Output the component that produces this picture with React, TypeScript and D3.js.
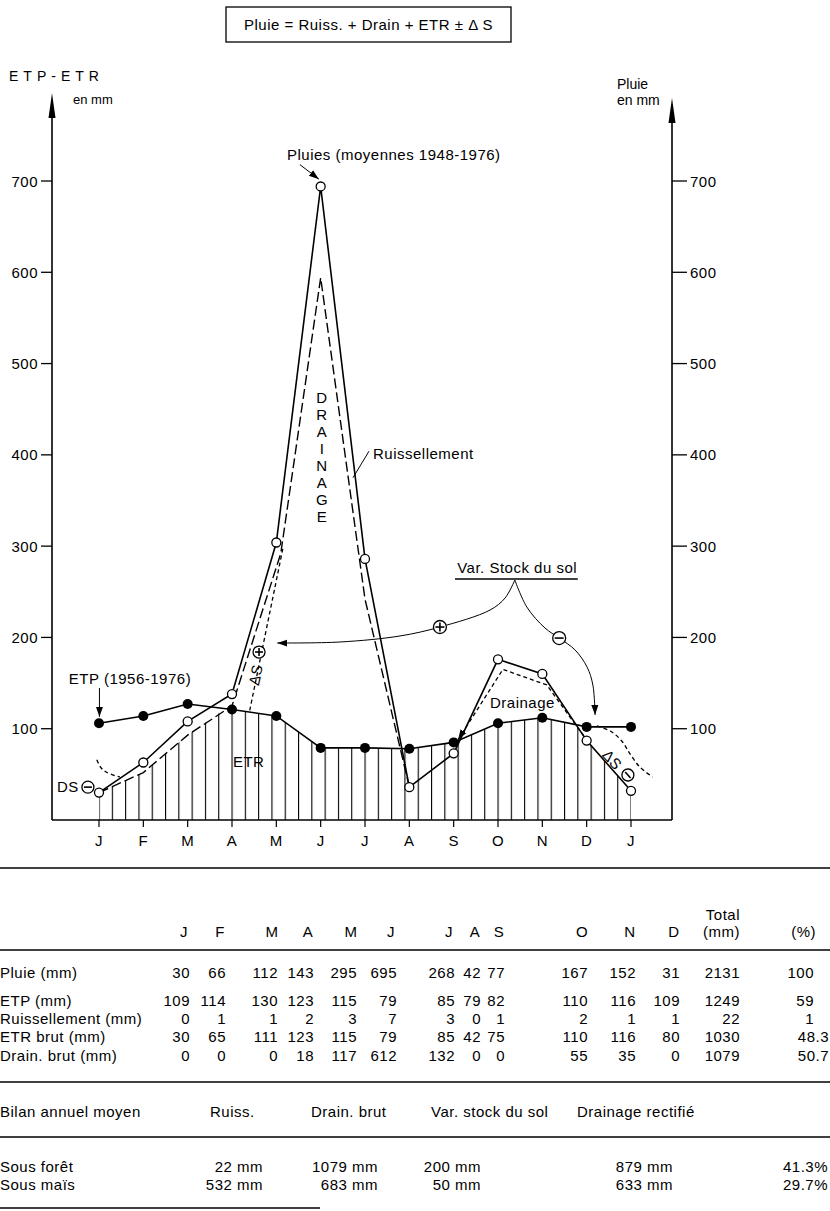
import React from "react";
import * as d3 from "d3";

// ---------- chart data ----------
const months = ["J", "F", "M", "A", "M", "J", "J", "A", "S", "O", "N", "D", "J"];
const pluiePlot = [30, 63, 108, 138, 304, 694, 286, 36, 73, 176, 160, 87, 32];
const etpPlot = [106, 114, 127, 121, 114, 79, 79, 78, 85, 106, 112, 102, 102];
const ruissLine: [number, number][] = [[0, 30], [1, 52], [2, 93], [3, 125], [4.1, 292], [5, 594], [6, 242], [7, 36]];
const deltaSPlusLine: [number, number][] = [[3.4, 120], [4.15, 298]];
const drainageLine: [number, number][] = [[8.1, 88], [9.11, 165], [10.1, 148], [10.62, 113], [11.0, 88]];
const deltaSRight: [number, number][] = [[11.23, 103], [11.55, 97], [11.8, 86], [11.97, 73], [12.2, 58], [12.49, 47]];
const deltaSLeft: [number, number][] = [[-0.05, 66], [0.05, 57], [0.18, 52], [0.47, 47]];
const etrTop: [number, number][] = [[0, 30], [1, 52], [2, 93], [2.85, 122], [3, 121], [4, 114], [5, 79], [6, 79], [7, 78], [8, 85], [9, 106], [10, 112], [10.76, 104], [11, 87], [12, 32]];
const leftTicks = [100, 200, 300, 400, 500, 600, 700];
const rightTicks = [100, 200, 300, 400, 500, 600, 700];
const varStockLeft: [number, number][] = [[9.38, 262.9], [9.16, 243.2], [8.82, 230.0], [7.69, 211.4], [6.79, 201.6], [5.44, 195.0], [4.02, 193.9]];
const varStockRight: [number, number][] = [[9.38, 262.9], [9.65, 233.3], [10.06, 210.3], [10.38, 199.3], [10.74, 186.2], [11.01, 167.5], [11.14, 147.9], [11.19, 115.0]];

// ---------- table data ----------
const tableMonths = ["J", "F", "M", "A", "M", "J", "J", "A", "S", "O", "N", "D"];
const rowLabels = ["Pluie (mm)", "ETP (mm)", "Ruissellement (mm)", "ETR brut (mm)", "Drain. brut (mm)"];
const pluieRow = [30, 66, 112, 143, 295, 695, 268, 42, 77, 167, 152, 31];
const etpRow = [109, 114, 130, 123, 115, 79, 85, 79, 82, 110, 116, 109];
const ruissRow = [0, 1, 1, 2, 3, 7, 3, 0, 1, 2, 1, 1];
const etrRow = [30, 65, 111, 123, 115, 79, 85, 42, 75, 110, 116, 80];
const drainRow = [0, 0, 0, 18, 117, 612, 132, 0, 0, 55, 35, 0];
const totals = ["2131", "1249", "22", "1030", "1079"];
const percents = ["100", "59", "1", "48.3", "50.7"];
const bilanHeaders = ["Bilan annuel moyen", "Ruiss.", "Drain. brut", "Var. stock du sol", "Drainage rectifié"];
const foretRow = ["Sous forêt", "22 mm", "1079 mm", "200 mm", "879 mm", "41.3%"];
const maisRow = ["Sous maïs", "532 mm", "683 mm", "50 mm", "633 mm", "29.7%"];

// ---------- layout ----------
const FONT = "'Liberation Sans', Arial, Helvetica, sans-serif";
const FS = 15;
const LS = 0.5;
const colRight = [190, 226, 278, 314, 357, 397, 455, 481, 505, 588, 636, 680];
const totalRight = 740;
const rowBase = [978, 1006, 1024, 1042, 1061];

const x = d3.scaleLinear().domain([0, 12]).range([99, 631]);
const y = d3.scaleLinear().domain([0, 700]).range([820, 181]);

const lineGen = d3.line<[number, number]>().x((d) => x(d[0])).y((d) => y(d[1]));
const curveGen = d3.line<[number, number]>().x((d) => x(d[0])).y((d) => y(d[1])).curve(d3.curveCatmullRom.alpha(0.5));
const areaGen = d3.area<[number, number]>().x((d) => x(d[0])).y0(y(0)).y1((d) => y(d[1]));

function Sign({ cx, cy, plus, r = 6.5 }: { cx: number; cy: number; plus: boolean; r?: number }) {
  return (
    <g>
      <circle cx={cx} cy={cy} r={r} fill="#fff" stroke="#000" strokeWidth={1.3} />
      <line x1={cx - r + 2} x2={cx + r - 2} y1={cy} y2={cy} stroke="#000" strokeWidth={1.6} />
      {plus && <line x1={cx} x2={cx} y1={cy - r + 2} y2={cy + r - 2} stroke="#000" strokeWidth={1.6} />}
    </g>
  );
}

function T(props: any) {
  return <text fontSize={FS} letterSpacing={LS} {...props} />;
}

export default function App() {
  const pluiePts: [number, number][] = pluiePlot.map((v, i) => [i, v]);
  const etpPts: [number, number][] = etpPlot.map((v, i) => [i, v]);
  const rows = [pluieRow, etpRow, ruissRow, etrRow, drainRow];

  return (
    <svg width={830} height={1211} style={{ position: "absolute", left: 0, top: 0, background: "#fff" }} fontFamily={FONT}>
      <defs>
        <pattern id="hatch" patternUnits="userSpaceOnUse" x={98.5} y={0} width={13.3} height={20}>
          <rect x={0} y={0} width={1.1} height={20} fill="#000" />
        </pattern>
        <marker id="arr" markerUnits="userSpaceOnUse" markerWidth={12} markerHeight={10} refX={10} refY={5} orient="auto-start-reverse">
          <path d="M0,1.5 L10,5 L0,8.5 Z" fill="#000" />
        </marker>
      </defs>
      <rect x={0} y={0} width={830} height={1211} fill="#fff" />

      {/* formula box */}
      <rect x={226} y={7} width={285} height={35} fill="none" stroke="#000" strokeWidth={1.3} />
      <T x={368.5} y={30} textAnchor="middle">Pluie = Ruiss. + Drain + ETR ± Δ S</T>

      {/* axis titles */}
      <text x={9} y={81} fontSize={14} letterSpacing={5}>ETP-ETR</text>
      <text x={73} y={104} fontSize={13}>en mm</text>
      <text x={617} y={89} fontSize={14}>Pluie</text>
      <text x={617} y={105} fontSize={14}>en mm</text>

      {/* hatch ETR */}
      <path d={areaGen(etrTop) || ""} fill="url(#hatch)" stroke="none" />

      {/* axes */}
      <line x1={52} x2={52} y1={y(0)} y2={110} stroke="#000" strokeWidth={1.6} />
      <path d="M52,93 L48.5,118 L55.5,118 Z" fill="#000" />
      <line x1={672} x2={672} y1={y(0)} y2={115} stroke="#000" strokeWidth={1.6} />
      <path d="M672,98 L668.5,123 L675.5,123 Z" fill="#000" />
      <line x1={52} x2={672} y1={y(0)} y2={y(0)} stroke="#000" strokeWidth={1.6} />
      {leftTicks.map((t) => (
        <g key={"l" + t}>
          <line x1={41} x2={52} y1={y(t)} y2={y(t)} stroke="#000" strokeWidth={1.3} />
          <T x={38} y={y(t) + 5.5} textAnchor="end">{t}</T>
        </g>
      ))}
      {rightTicks.map((t) => (
        <g key={"r" + t}>
          <line x1={672} x2={687} y1={y(t)} y2={y(t)} stroke="#000" strokeWidth={1.3} />
          <T x={690} y={y(t) + 5.5}>{t}</T>
        </g>
      ))}
      {months.map((m, i) => (
        <g key={"m" + i}>
          <line x1={x(i)} x2={x(i)} y1={y(0)} y2={y(0) + 7} stroke="#000" strokeWidth={1.2} />
          <T x={x(i)} y={y(0) + 26} textAnchor="middle">{m}</T>
        </g>
      ))}

      {/* dashed lines */}
      <path d={lineGen(ruissLine) || ""} fill="none" stroke="#000" strokeWidth={1.4} strokeDasharray="10,4" />
      <path d={lineGen(deltaSPlusLine) || ""} fill="none" stroke="#000" strokeWidth={1.3} strokeDasharray="4,3" />
      <path d={lineGen(drainageLine) || ""} fill="none" stroke="#000" strokeWidth={1.3} strokeDasharray="4,3" markerStart="url(#arr)" />
      <path d={curveGen(deltaSRight) || ""} fill="none" stroke="#000" strokeWidth={1.3} strokeDasharray="4,3" />
      <path d={curveGen(deltaSLeft) || ""} fill="none" stroke="#000" strokeWidth={1.3} strokeDasharray="4,3" />

      {/* ETP line */}
      <path d={lineGen(etpPts) || ""} fill="none" stroke="#000" strokeWidth={1.6} />
      {etpPts.map((p, i) => (
        <circle key={"e" + i} cx={x(p[0])} cy={y(p[1])} r={5} fill="#000" />
      ))}

      {/* Pluie line */}
      <path d={lineGen(pluiePts) || ""} fill="none" stroke="#000" strokeWidth={1.6} />
      {pluiePts.map((p, i) => (
        <circle key={"p" + i} cx={x(p[0])} cy={y(p[1])} r={4.5} fill="#fff" stroke="#000" strokeWidth={1.3} />
      ))}

      {/* annotations */}
      <T x={x(4.24)} y={y(723)}>Pluies (moyennes 1948-1976)</T>
      <line x1={x(4.53)} y1={y(718)} x2={x(4.96)} y2={y(702)} stroke="#000" strokeWidth={1} markerEnd="url(#arr)" />
      {"DRAINAGE".split("").map((c, i) => (
        <T key={"d" + i} x={x(5.03)} y={y(462) + 5 + i * 17} textAnchor="middle">{c}</T>
      ))}
      <T x={x(6.18)} y={y(395)}>Ruissellement</T>
      <line x1={x(6.09)} y1={y(404)} x2={x(5.73)} y2={y(375)} stroke="#000" strokeWidth={1} />

      <T x={x(8.08)} y={y(270.6)}>Var. Stock du sol</T>
      <line x1={x(8.03)} x2={x(10.8)} y1={y(264)} y2={y(264)} stroke="#000" strokeWidth={1.3} />
      <path d={curveGen(varStockLeft) || ""} fill="none" stroke="#000" strokeWidth={1} markerEnd="url(#arr)" />
      <path d={curveGen(varStockRight) || ""} fill="none" stroke="#000" strokeWidth={1} markerEnd="url(#arr)" />
      <Sign cx={x(7.69)} cy={y(211.4)} plus={true} />
      <Sign cx={x(10.38)} cy={y(199.3)} plus={false} />

      <g transform={`translate(${x(3.54)},${y(159)}) rotate(-78)`}>
        <T x={0} y={5} textAnchor="middle">ΔS</T>
      </g>
      <Sign cx={x(3.61)} cy={y(184)} plus={true} r={6} />

      <T x={x(-0.68)} y={y(149)}>ETP (1956-1976)</T>
      <line x1={x(0.01)} y1={y(144.6)} x2={x(0.01)} y2={y(113)} stroke="#000" strokeWidth={1} markerEnd="url(#arr)" />
      <T x={x(-0.95)} y={y(30.7)}>DS</T>
      <Sign cx={x(-0.25)} cy={y(36)} plus={false} r={6} />
      <T x={x(3.02)} y={y(58)}>ETR</T>
      <T x={x(8.82)} y={y(122.7)}>Drainage</T>
      <g transform={`translate(${x(11.57)},${y(65.7)}) rotate(48)`}>
        <T x={0} y={5} textAnchor="middle">ΔS</T>
      </g>
      <g transform={`translate(${x(11.93)},${y(49.3)}) rotate(48)`}>
        <Sign cx={0} cy={0} plus={false} r={6} />
      </g>

      {/* ---------- table ---------- */}
      <line x1={0} x2={830} y1={868} y2={868} stroke="#000" strokeWidth={1.5} />
      {tableMonths.map((m, i) => (
        <T key={"tm" + i} x={colRight[i] - 6} y={937} textAnchor="middle">{m}</T>
      ))}
      <T x={totalRight} y={920} textAnchor="end">Total</T>
      <T x={totalRight} y={937} textAnchor="end">(mm)</T>
      <T x={816} y={937} textAnchor="end">(%)</T>
      <line x1={0} x2={830} y1={950} y2={950} stroke="#000" strokeWidth={1.3} />
      {rows.map((r, ri) => (
        <g key={"row" + ri}>
          <T x={0} y={rowBase[ri]}>{rowLabels[ri]}</T>
          {r.map((v, ci) => (
            <T key={ci} x={colRight[ci]} y={rowBase[ri]} textAnchor="end">{v}</T>
          ))}
          <T x={totalRight} y={rowBase[ri]} textAnchor="end">{totals[ri]}</T>
          <T x={percents[ri].includes(".") ? 829 : 814} y={rowBase[ri]} textAnchor="end">{percents[ri]}</T>
        </g>
      ))}
      <line x1={0} x2={830} y1={1082} y2={1082} stroke="#000" strokeWidth={1.3} />
      <T x={0} y={1117}>{bilanHeaders[0]}</T>
      <T x={210} y={1117}>{bilanHeaders[1]}</T>
      <T x={311} y={1117}>{bilanHeaders[2]}</T>
      <T x={431} y={1117}>{bilanHeaders[3]}</T>
      <T x={577} y={1117}>{bilanHeaders[4]}</T>
      <line x1={0} x2={830} y1={1137} y2={1137} stroke="#000" strokeWidth={1.3} />
      {[foretRow, maisRow].map((r, ri) => (
        <g key={"b" + ri}>
          <T x={0} y={1172 + ri * 18}>{r[0]}</T>
          <T x={263} y={1172 + ri * 18} textAnchor="end">{r[1]}</T>
          <T x={378} y={1172 + ri * 18} textAnchor="end">{r[2]}</T>
          <T x={481} y={1172 + ri * 18} textAnchor="end">{r[3]}</T>
          <T x={673} y={1172 + ri * 18} textAnchor="end">{r[4]}</T>
          <T x={828} y={1172 + ri * 18} textAnchor="end">{r[5]}</T>
        </g>
      ))}
      <line x1={0} x2={320} y1={1208} y2={1208} stroke="#000" strokeWidth={1.3} />
    </svg>
  );
}
